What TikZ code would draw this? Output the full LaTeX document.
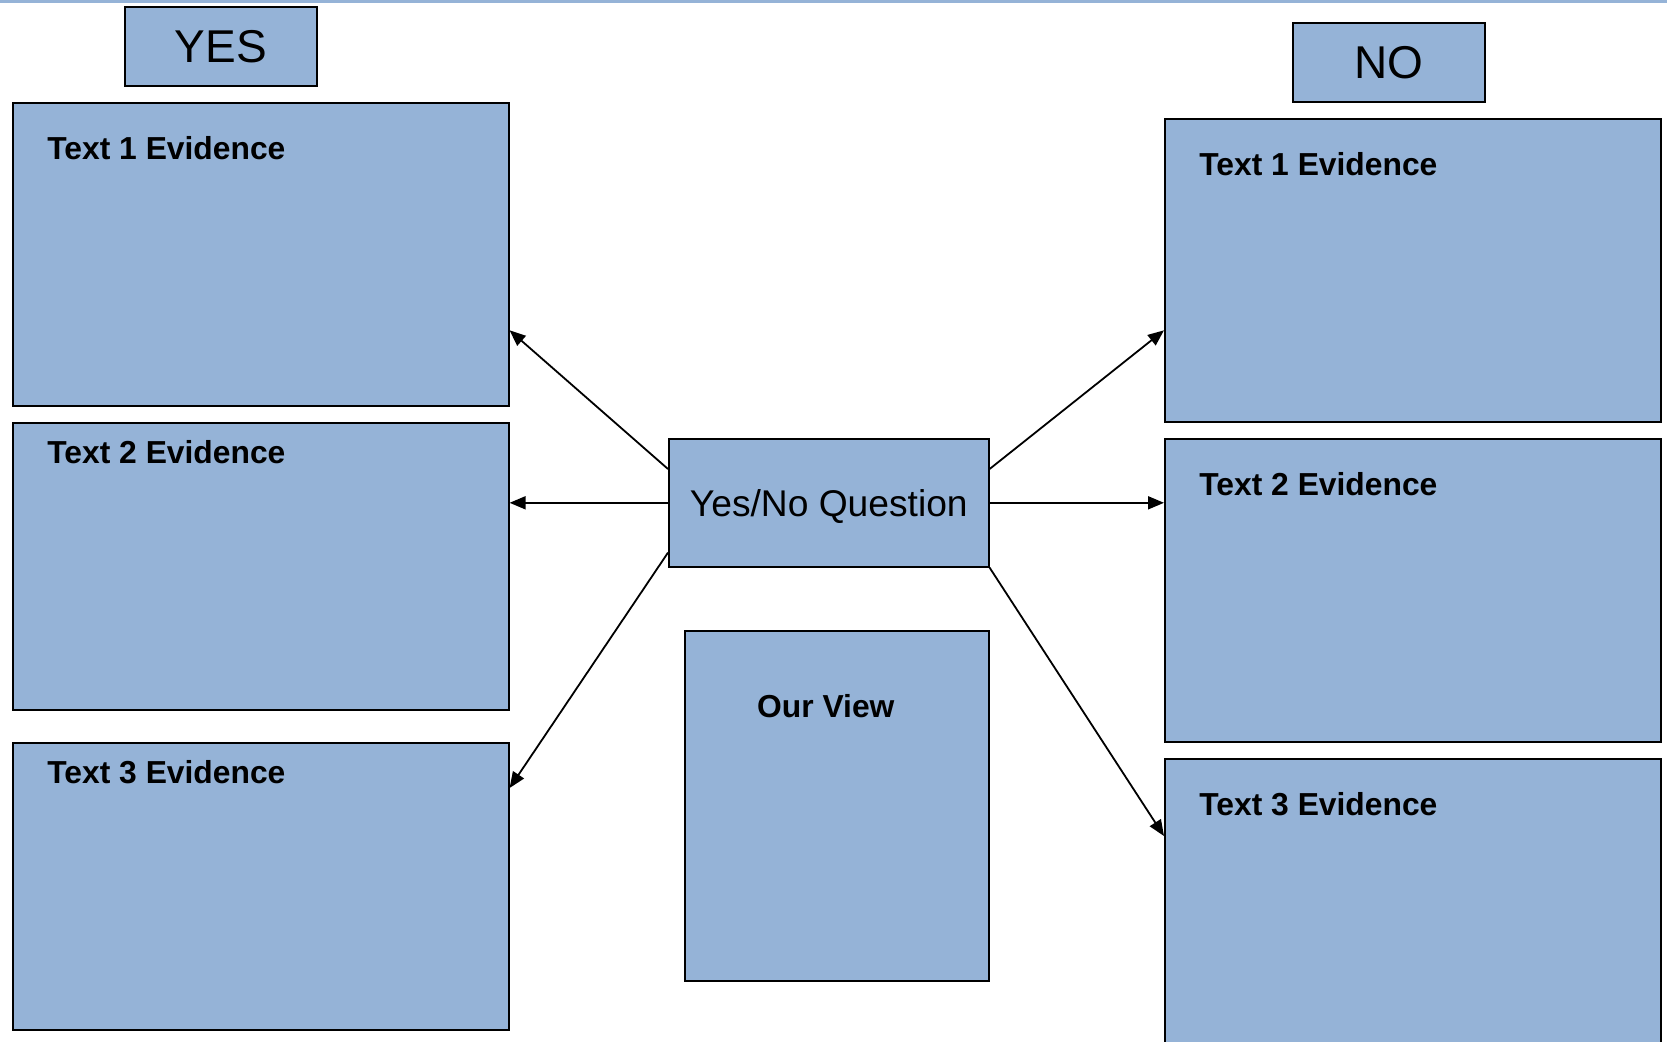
\documentclass[tikz,border=0pt]{standalone}
\usepackage{fontspec}
\setmainfont{Liberation Sans}
\usepackage{xcolor}
\usetikzlibrary{arrows.meta}
\definecolor{boxblue}{HTML}{95B3D7}

\begin{document}
\begin{tikzpicture}[x=0.5pt,y=-0.5pt,>={Triangle[length=8pt,width=6.5pt]},
  box/.style={draw,line width=0.8pt,fill=boxblue,inner sep=0pt,anchor=north west},
  bigbox/.style={box,minimum width=248pt},
  ev/.style={anchor=west,inner sep=0pt,font=\fontsize{15.9}{18}\selectfont\bfseries},
  conn/.style={->,line width=0.9pt}]
\useasboundingbox (0,0) rectangle (1667,1041);
\clip (0,0) rectangle (1667,1041);
\draw [boxblue,line width=1.5pt] (0,1.5) -- (1667,1.5);
\node[box,minimum width=96pt,minimum height=39.5pt,font=\fontsize{23}{26}\selectfont] (yes) at (124,6) {YES};
\node[box,minimum width=96pt,minimum height=39.5pt,font=\fontsize{23}{26}\selectfont] (no) at (1292,22) {NO};
\node[bigbox,minimum height=151.5pt] (y1) at (12,102) {};
\node[bigbox,minimum height=143.5pt] (y2) at (12,422) {};
\node[bigbox,minimum height=143.5pt] (y3) at (12,742) {};
\node[bigbox,minimum height=151.5pt] (n1) at (1164,118) {};
\node[bigbox,minimum height=151.5pt] (n2) at (1164,438) {};
\node[bigbox,minimum height=155pt] (n3) at (1164,758) {};
\node[ev] (y1t) at ([xshift=17.5pt,yshift=-23pt]y1.north west) {Text 1 Evidence};
\node[ev] (y2t) at ([xshift=17.5pt,yshift=-15pt]y2.north west) {Text 2 Evidence};
\node[ev] (y3t) at ([xshift=17.5pt,yshift=-15pt]y3.north west) {Text 3 Evidence};
\node[ev] (n1t) at ([xshift=17.5pt,yshift=-23pt]n1.north west) {Text 1 Evidence};
\node[ev] (n2t) at ([xshift=17.5pt,yshift=-23pt]n2.north west) {Text 2 Evidence};
\node[ev] (n3t) at ([xshift=17.5pt,yshift=-23pt]n3.north west) {Text 3 Evidence};
\node[box,minimum width=160pt,minimum height=64pt] (q) at (668,438) {};
\node[inner sep=0pt,font=\fontsize{18.6}{21}\selectfont] (qt) at ([yshift=-2pt]q.center) {Yes/No Question};
\node[box,minimum width=152pt,minimum height=175pt] (view) at (684,630) {};
\node[ev,anchor=center] (viewt) at ([xshift=-5.5pt,yshift=-38pt]view.north) {Our View};
\draw[conn] ([yshift=-15.5pt]q.north west) -- ([yshift=-38pt]y1.east);
\draw[conn] (q.west) -- (q.west -| y2.east);
\draw[conn] ([yshift=7.5pt]q.south west) -- ([yshift=-23pt]y3.north east);
\draw[conn] ([yshift=-15.5pt]q.north east) -- ([yshift=-30pt]n1.west);
\draw[conn] (q.east) -- (q.east -| n2.west);
\draw[conn] (q.south east) -- ([yshift=-39pt]n3.north west);
\end{tikzpicture}
\end{document}
